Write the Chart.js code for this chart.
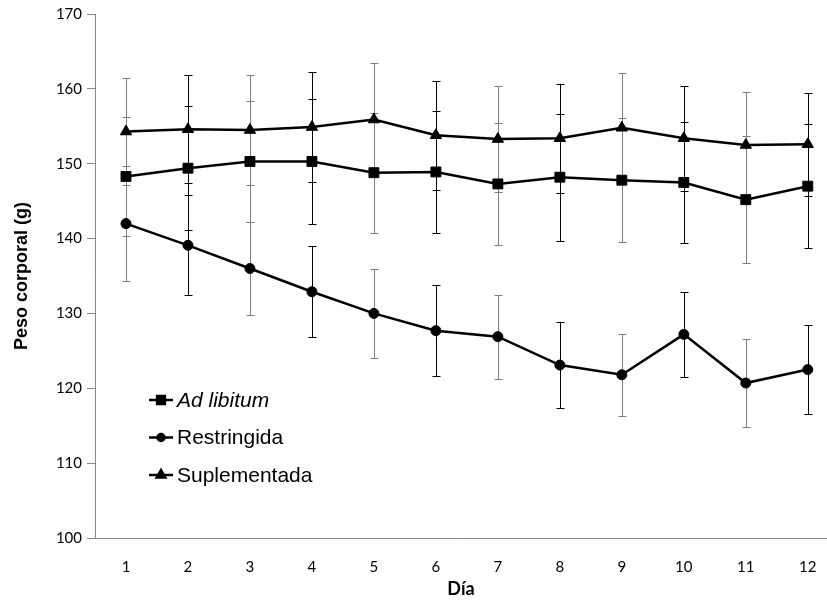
<!DOCTYPE html>
<html lang="es">
<head>
<meta charset="UTF-8" />
<title>Peso corporal</title>
<script src="https://cdn.jsdelivr.net/npm/chart.js"></script>
<style>
  html, body { margin: 0; padding: 0; background: #fff; overflow: hidden; }
  #wrap { width: 827px; height: 606px; }
</style>
</head>
<body>
<div id="wrap"><canvas id="peso" width="827" height="606"></canvas></div>
<script>
  // días del ensayo
  const dias = [1, 2, 3, 4, 5, 6, 7, 8, 9, 10, 11, 12];

  // medias (g) y desviación (±)
  const adLibitum      = [148.3, 149.4, 150.3, 150.3, 148.8, 148.9, 147.3, 148.2, 147.8, 147.5, 145.2, 147.0];
  const adLibitumDE    = [7.9, 8.3, 8.1, 8.3, 8.0, 8.2, 8.2, 8.5, 8.3, 8.1, 8.5, 8.3];
  const restringida    = [142.0, 139.1, 136.0, 132.9, 130.0, 127.7, 126.9, 123.1, 121.8, 127.2, 120.7, 122.5];
  const restringidaDE  = [7.7, 6.7, 6.2, 6.1, 5.9, 6.1, 5.6, 5.7, 5.5, 5.7, 5.9, 6.0];
  const suplementada   = [154.3, 154.6, 154.5, 154.9, 155.9, 153.8, 153.3, 153.4, 154.8, 153.4, 152.5, 152.6];
  const suplementadaDE = [7.2, 7.2, 7.4, 7.4, 7.6, 7.3, 7.1, 7.3, 7.3, 7.0, 7.1, 6.9];

  const ejeGris = '#868686';

  // barras de error (se dibujan debajo de las líneas)
  const errorBars = {
    id: 'errorBars',
    beforeDatasetsDraw(chart) {
      const { ctx, scales: { x, y } } = chart;
      ctx.save();
      ctx.lineWidth = 1;
      chart.data.datasets.forEach(ds => {
        ds.data.forEach((v, i) => {
          const px = Math.round(x.getPixelForValue(dias[i])) + 0.5;
          const top = Math.round(y.getPixelForValue(v + ds.errores[i])) + 0.5;
          const bot = Math.round(y.getPixelForValue(v - ds.errores[i])) + 0.5;
          ctx.strokeStyle = i % 2 === 0 ? '#7f7f7f' : '#000';
          ctx.beginPath();
          ctx.moveTo(px, top); ctx.lineTo(px, bot);
          ctx.moveTo(px - 4, top); ctx.lineTo(px + 4, top);
          ctx.moveTo(px - 4, bot); ctx.lineTo(px + 4, bot);
          ctx.stroke();
        });
      });
      ctx.restore();
    }
  };

  // leyenda dentro del área del gráfico (abajo a la izquierda)
  const leyenda = {
    id: 'leyenda',
    afterDraw(chart) {
      const { ctx, chartArea } = chart;
      const x0 = chartArea.left + 54;
      ctx.save();
      chart.data.datasets.forEach((ds, i) => {
        const cy = chartArea.top + 386 + i * 37.5;
        ctx.strokeStyle = '#000';
        ctx.lineWidth = 2.5;
        ctx.beginPath();
        ctx.moveTo(x0, cy); ctx.lineTo(x0 + 24, cy);
        ctx.stroke();
        ctx.fillStyle = '#000';
        Chart.helpers.drawPoint(ctx, {
          pointStyle: ds.pointStyle, radius: ds.pointRadius - 1.5, borderWidth: 1, rotation: 0
        }, x0 + 12, cy);
        ctx.fillStyle = '#000';
        ctx.textBaseline = 'middle';
        ctx.font = (i === 0 ? 'italic ' : '') + '21px "Liberation Sans", Arial, sans-serif';
        ctx.fillText(ds.label, x0 + 28, cy + 1);
      });
      ctx.restore();
    }
  };

  const serie = (label, data, errores, pointStyle, pointRadius) => ({
    label, data, errores, pointStyle, pointRadius,
    borderColor: '#000',
    backgroundColor: '#000',
    pointBackgroundColor: '#000',
    pointBorderColor: '#000',
    pointBorderWidth: 1,
    borderWidth: 2.5,
    tension: 0
  });

  new Chart(document.getElementById('peso'), {
    type: 'line',
    data: {
      labels: dias,
      datasets: [
        serie('Ad libitum', adLibitum, adLibitumDE, 'rect', 7),
        serie('Restringida', restringida, restringidaDE, 'circle', 5),
        serie('Suplementada', suplementada, suplementadaDE, 'triangle', 6.5)
      ]
    },
    plugins: [errorBars, leyenda],
    options: {
      responsive: false,
      animation: false,
      layout: { autoPadding: false, padding: { top: 14, right: 0, bottom: 2, left: 0 } },
      plugins: { legend: { display: false }, tooltip: { enabled: false } },
      scales: {
        x: {
          type: 'linear',
          min: 0.5,
          max: 12.31,
          afterBuildTicks: axis => { axis.ticks = dias.map(v => ({ value: v })); },
          afterFit: scale => {
            scale.height = 66;
            scale.paddingLeft = 0;
            scale.paddingRight = 0;
          },
          grid: { display: false, drawTicks: true, tickLength: 16 },
          border: { color: ejeGris, width: 1 },
          ticks: {
            padding: 4,
            color: '#000',
            font: { family: 'Lato, sans-serif', size: 15 },
            maxRotation: 0
          },
          title: {
            display: true,
            text: 'Día',
            color: '#000',
            font: { family: 'Lato, sans-serif', size: 18, weight: 'bold' },
            padding: { top: 2, bottom: 4 }
          }
        },
        y: {
          min: 100,
          max: 170,
          afterFit: scale => { scale.width = 95; },
          grid: { drawOnChartArea: false, drawTicks: true, tickLength: 8, color: ejeGris },
          border: { color: ejeGris, width: 1 },
          ticks: {
            stepSize: 10,
            padding: 5,
            color: '#000',
            font: { family: 'Lato, sans-serif', size: 15 }
          },
          title: {
            display: true,
            text: 'Peso corporal (g)',
            color: '#000',
            font: { family: '"Liberation Sans", Arial, sans-serif', size: 18, weight: 'bold' },
            padding: { top: 11, bottom: 0 }
          }
        }
      }
    }
  });
</script>
</body>
</html>
